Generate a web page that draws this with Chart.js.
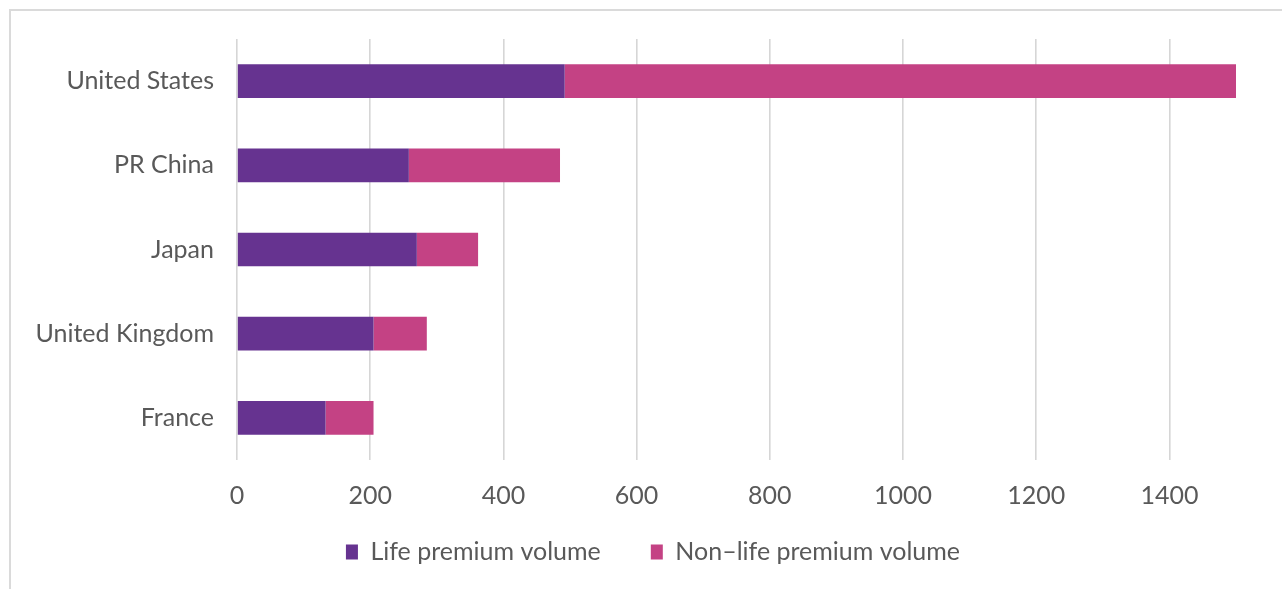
<!DOCTYPE html>
<html>
<head>
<meta charset="utf-8">
<title>Premium volume by country</title>
<script src="https://cdn.jsdelivr.net/npm/chart.js@4"></script>
<style>
  html, body { margin: 0; padding: 0; background: #ffffff; overflow: hidden; }
  #frame {
    position: absolute; left: 9px; top: 9px;
    width: 1300px; height: 620px;
    border: 2px solid #dadada;
  }
  #wrap { position: absolute; left: 0; top: 0; width: 1282px; height: 589px; }
</style>
</head>
<body>
<div id="frame"></div>
<div id="wrap"><canvas id="premiumChart"></canvas></div>
<script>
// --- data ---
const countries = ['United States', 'PR China', 'Japan', 'United Kingdom', 'France'];
const lifePremium = [492, 258, 270, 205, 133];
const nonLifePremium = [1008, 227, 92, 80, 72];
const seriesNames = ['Life premium volume', 'Non\u2013life premium volume'];
const xTickValues = [0, 200, 400, 600, 800, 1000, 1200, 1400];
const xMax = 1500;

const textColor = '#595959';
const fontFamily = "Lato, 'Open Sans', sans-serif";
const labelSize = 25;

// legend row sits a little right of centre and closer to the axis labels
const legendNudge = { x: 35, centerY: 552 };

Chart.defaults.font.family = fontFamily;
Chart.defaults.color = textColor;

const legendPlacement = {
    id: 'legendPlacement',
    afterLayout(chart) {
        const lg = chart.legend;
        if (!lg) return;
        const rowCenter = lg.top + lg.options.labels.padding + labelSize / 2;
        lg.top += legendNudge.centerY - rowCenter;
        lg.bottom = chart.height;   // legend clips to its own box
        lg.left += legendNudge.x;
        lg.right += legendNudge.x;
    }
};

const ctx = document.getElementById('premiumChart').getContext('2d');

new Chart(ctx, {
    type: 'bar',
    data: {
        labels: countries,
        datasets: [
            {
                label: seriesNames[0],
                data: lifePremium,
                backgroundColor: '#663390',
                borderWidth: 0,
                categoryPercentage: 1,
                barPercentage: 0.4
            },
            {
                label: seriesNames[1],
                data: nonLifePremium,
                backgroundColor: '#c44284',
                borderWidth: 0,
                categoryPercentage: 1,
                barPercentage: 0.4
            }
        ]
    },
    plugins: [legendPlacement],
    options: {
        indexAxis: 'y',
        responsive: true,
        maintainAspectRatio: false,
        animation: false,
        layout: { padding: { top: 39, right: 46, left: 0, bottom: 0 } },
        plugins: {
            tooltip: { enabled: false },
            legend: {
                position: 'bottom',
                maxHeight: 69,
                labels: {
                    color: textColor,
                    font: { size: labelSize },
                    boxWidth: 12,
                    boxHeight: 15,
                    padding: 50
                }
            }
        },
        scales: {
            x: {
                stacked: true,
                min: 0,
                max: xMax,
                afterBuildTicks: (axis) => {
                    axis.ticks = xTickValues.map(v => ({ value: v }));
                },
                afterFit: (scale) => { scale.height = 60; },
                ticks: {
                    color: textColor,
                    font: { size: labelSize },
                    padding: 21,
                    callback: (value) => String(value)
                },
                grid: { color: '#d6d6d6', lineWidth: 1.6, drawTicks: false },
                border: { display: false }
            },
            y: {
                stacked: true,
                afterFit: (scale) => { scale.width = 237; },
                ticks: { color: textColor, font: { size: labelSize }, padding: 23 },
                grid: { display: false, drawTicks: false },
                border: { display: false }
            }
        }
    }
});
</script>
</body>
</html>
